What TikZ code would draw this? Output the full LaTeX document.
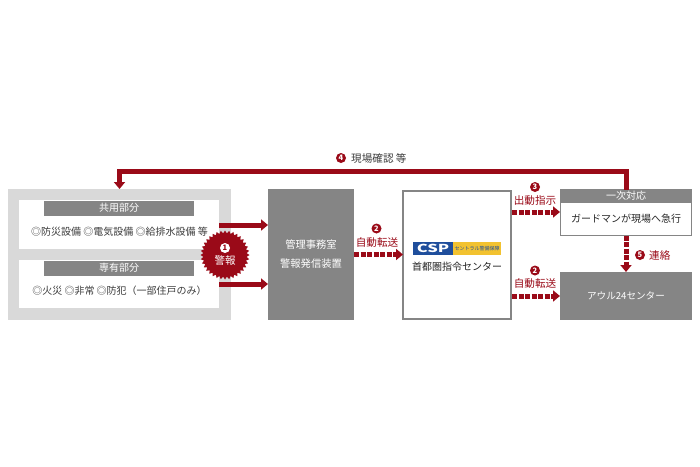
\documentclass[tikz,border=0pt]{standalone}
\usepackage{fontspec}
\setmainfont{Noto Sans CJK JP}
\usetikzlibrary{arrows.meta}
\usetikzlibrary{shapes.geometric}
\definecolor{alarmred}{HTML}{9A0A18}
\definecolor{boxgrey}{HTML}{858585}
\definecolor{panelgrey}{HTML}{D9D9D9}
\definecolor{bodytext}{HTML}{3C3C3C}
\definecolor{cspblue}{HTML}{1F4E9C}
\definecolor{cspyellow}{HTML}{F2C230}
\tikzset{%
    box/.style={inner sep=0pt,outer sep=0pt,rectangle}
}

\begin{document}
\begin{tikzpicture}[
        x=1pt,y=-1pt,
        panel/.style={box,fill=panelgrey},
        sheet/.style={box,fill=white},
        header/.style={box,fill=boxgrey,text=white,font=\fontsize{10}{10}\selectfont},
        solidbox/.style={box,fill=boxgrey,text=white,font=\fontsize{10.3}{19}\selectfont,align=center},
        outlinebox/.style={box,draw=boxgrey,line width=2pt,fill=white},
        body/.style={inner sep=0pt,text=bodytext,font=\fontsize{10}{10}\selectfont},
        redlabel/.style={inner sep=0pt,text=alarmred,font=\fontsize{10.6}{11}\selectfont},
        badge/.style={circle,fill=alarmred,text=white,inner sep=0pt,minimum size=10pt,font=\bfseries\fontsize{7.5}{7.5}\selectfont},
        link/.style={line width=5pt,draw=alarmred,-{Triangle[length=7pt,width=11pt,fill=alarmred]}},
        dashlink/.style={link,dash pattern=on 5pt off 1.5pt}
        ]
        \useasboundingbox (0,0) rectangle (700,466);
        \fill[white] (0,0) rectangle (700,466);

        % left panel
        \node[panel,minimum width=223,minimum height=131] (outer) at (119.5,254.5){};
        \node[sheet,minimum width=200,minimum height=49] (shared) at (119,224.5){};
        \node[sheet,minimum width=200,minimum height=48] (private) at (119,284){};
        \node[header,minimum width=150,minimum height=15] (sharedhead) at (119,208){共用部分};
        \node[header,minimum width=150,minimum height=15] (privatehead) at (119,268){専有部分};
        \node[body] (sharedtext) at (119.5,231.5){◎防災設備\ ◎電気設備\ ◎給排水設備\ 等};
        \node[body] (privatetext) at (119.5,291){◎火災\ ◎非常\ ◎防犯（一部住戸のみ）};

        % middle boxes
        \node[solidbox,minimum width=86,minimum height=131] (office) at (311,254.5){管理事務室\\警報発信装置};
        \node[outlinebox,minimum width=108,minimum height=128] (center) at (457,254.5){};
        \node[box,fill=cspblue,minimum width=40,minimum height=13,text=white,font=\bfseries\fontsize{11}{11}\selectfont] (logoa) at (433,248.5){\scalebox{1.5}[1]{CSP}};
        \node[box,fill=cspyellow,minimum width=48,minimum height=13,text=cspblue,font=\fontsize{5}{5}\selectfont] (logob) at (477,248.5){セントラル警備保障};
        \node[body,text=black!85] (centertext) at (457,267){首都圏指令センター};

        % right boxes
        \node[box,draw=boxgrey,line width=1.5pt,fill=white,minimum width=131,minimum height=46] (resp) at (626,212.5){};
        \node[header,minimum width=132,minimum height=14] (resphead) at (626,196){一次対応};
        \node[body,text=black!85] (resptext) at (626,219){ガードマンが現場へ急行};
        \node[solidbox,font=\fontsize{9.6}{10}\selectfont,minimum width=132,minimum height=48] (owl) at (626,296){アウル24センター};

        % burst
        \node[star,star points=36,star point ratio=1.13,fill=alarmred,minimum size=49pt,inner sep=0pt] (burst) at (225,255){};
        \node[circle,fill=white,text=alarmred,inner sep=0pt,minimum size=10pt,font=\bfseries\fontsize{7.5}{7.5}\selectfont] (one) at (225,248){1};
        \node[inner sep=0pt,text=white,font=\fontsize{10.5}{10.5}\selectfont] (alarm) at (225,261){警報};

        \coordinate (turn) at (119.5,171.5);
        \coordinate (ina) at (219,225);
        \coordinate (inb) at (219,284);
        \coordinate (forkc) at (512,212);
        \coordinate (forkd) at (512,296);
        \coordinate (outc) at (560,212);
        \coordinate (outd) at (560,296);
        \coordinate (outa) at (268,225);
        \coordinate (outb) at (268,284);

        \draw[link,-] (resp.north) |- (turn);
        \draw[link] (turn) ++(0,-2.5) -- (outer.north);
        \draw[link] (ina) -- (outa);
        \draw[link] (inb) -- (outb);
        \draw[dashlink] (office.east) -- (center.west);
        \draw[dashlink] (forkc) -- (outc);
        \draw[dashlink] (forkd) -- (outd);
        \draw[dashlink] (resp.south) -- (owl.north);

        % labels
        \node[badge] (fourth) at (341,158){4};
        \node[redlabel,anchor=west,text=bodytext] (fourthtext) at (351,158){現場確認\ 等};
        \node[badge] (seconda) at (376.5,228.5){2};
        \node[redlabel] (secondatext) at (377,242){自動転送};
        \node[badge] (third) at (535,187){3};
        \node[redlabel] (thirdtext) at (535,200){出動指示};
        \node[badge] (secondb) at (535,270.5){2};
        \node[redlabel] (secondbtext) at (535,283.5){自動転送};
        \node[badge] (fifth) at (640,255){5};
        \node[redlabel,anchor=west] (fifthtext) at (649,255){連絡};
    \end{tikzpicture}
\end{document}
